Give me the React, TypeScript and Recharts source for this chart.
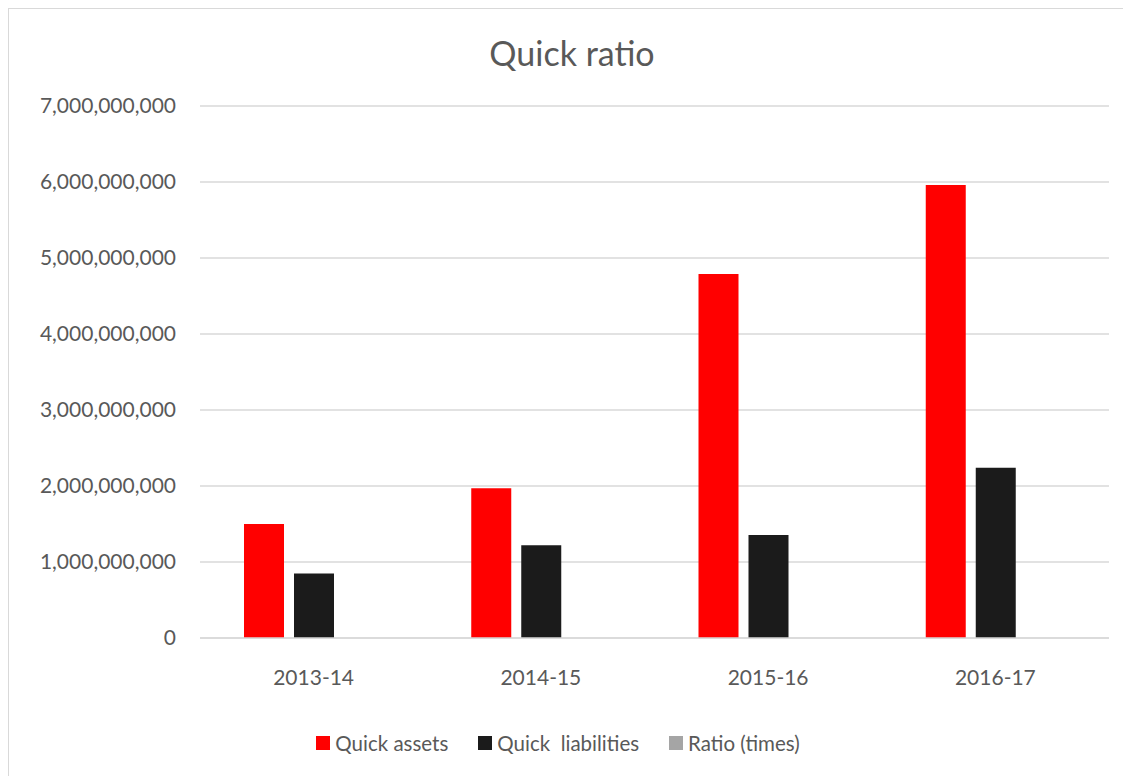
import { Bar, BarChart, CartesianGrid, Legend, XAxis, YAxis } from 'recharts';

const categories = ['2013-14', '2014-15', '2015-16', '2016-17'];
const quickAssets = [1500000000, 1970000000, 4790000000, 5960000000];
const quickLiabilities = [850000000, 1220000000, 1355000000, 2240000000];
const ratioTimes = [1.76, 1.61, 3.54, 2.66];
const seriesNames = ['Quick assets', 'Quick  liabilities', 'Ratio (times)'];
const yTicks = [0, 1000000000, 2000000000, 3000000000, 4000000000, 5000000000, 6000000000, 7000000000];

const FONT = 'Lato, "Open Sans", sans-serif';
const TEXT = '#595959';

const chartData = categories.map((year, i) => ({
  year,
  assets: quickAssets[i],
  liabilities: quickLiabilities[i],
  ratio: ratioTimes[i]
}));

// keep legend entries in series order (the default sort puts the double-spaced name first)
function LegendRow({ payload }: any) {
  const items = [...(payload || [])].sort(
    (a: any, b: any) => seriesNames.indexOf(a.value) - seriesNames.indexOf(b.value)
  );
  return (
    <div
      style={{
        display: 'flex',
        justifyContent: 'center',
        alignItems: 'center',
        height: 30,
        fontFamily: FONT,
        fontSize: 20.5,
        color: TEXT,
        whiteSpace: 'pre'
      }}
    >
      {items.map((item: any, i: number) => (
        <div
          key={item.value}
          style={{ display: 'flex', alignItems: 'center', marginRight: i < items.length - 1 ? 30 : 0 }}
        >
          <span style={{ width: 14, height: 14, background: item.color, marginRight: 5 }} />
          <span>{item.value}</span>
        </div>
      ))}
    </div>
  );
}

export default function App() {
  return (
    <div
      style={{
        position: 'relative',
        width: 1122,
        height: 767,
        marginLeft: -1,
        marginTop: -1,
        borderLeft: '2px solid #d9d9d9',
        borderTop: '2px solid #d9d9d9',
        background: '#fff'
      }}
    >
      <div
        style={{
          position: 'absolute',
          top: 27,
          left: 0,
          width: 1126,
          textAlign: 'center',
          fontFamily: FONT,
          fontSize: 34,
          lineHeight: 1,
          color: TEXT
        }}
      >
        Quick ratio
      </div>
      <BarChart
        width={1122}
        height={767}
        data={chartData}
        margin={{ top: 97, right: 22, left: 0, bottom: 48 }}
        barSize={40}
        barGap={10}
      >
        <CartesianGrid vertical={false} stroke="#d9d9d9" strokeWidth={1.5} />
        <XAxis
          dataKey="year"
          height={60}
          tickLine={false}
          tickSize={0}
          tickMargin={32}
          axisLine={{ stroke: '#d9d9d9', strokeWidth: 1.5 }}
          tick={{ fill: TEXT, fontSize: 21, fontFamily: FONT }}
        />
        <YAxis
          width={191}
          domain={[0, 7000000000]}
          ticks={yTicks}
          interval={0}
          axisLine={false}
          tickLine={false}
          tickSize={0}
          tickMargin={24}
          tickFormatter={(v: number) => v.toLocaleString('en-US')}
          tick={{ fill: TEXT, fontSize: 21, fontFamily: FONT }}
        />
        <Legend
          verticalAlign="bottom"
          content={<LegendRow />}
          wrapperStyle={{ top: 719, left: 0, width: 1098 }}
        />
        <Bar dataKey="assets" name={seriesNames[0]} fill="#ff0000" isAnimationActive={false} />
        <Bar dataKey="liabilities" name={seriesNames[1]} fill="#1b1b1b" isAnimationActive={false} />
        <Bar dataKey="ratio" name={seriesNames[2]} fill="#a5a5a5" isAnimationActive={false} />
      </BarChart>
    </div>
  );
}
